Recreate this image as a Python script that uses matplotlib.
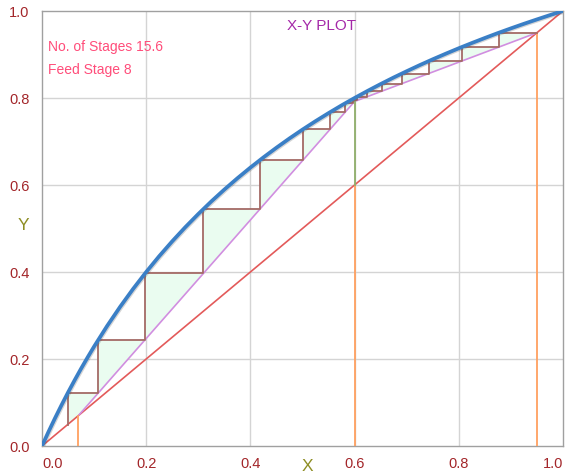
import matplotlib
matplotlib.use("Agg")
import matplotlib.pyplot as plt
import matplotlib.patheffects as pe

plt.rcParams['font.family'] = ['Liberation Sans', 'DejaVu Sans']

# ---- data ----
eq_x = [0.0, 0.0125, 0.025, 0.0375, 0.05, 0.0625, 0.075, 0.0875, 0.1, 0.125, 0.15, 0.175,
        0.2, 0.225, 0.25, 0.275, 0.3, 0.325, 0.35, 0.375, 0.4, 0.425, 0.45, 0.475, 0.5,
        0.525, 0.55, 0.575, 0.6, 0.625, 0.65, 0.675, 0.7, 0.725, 0.75, 0.775, 0.8,
        0.825, 0.85, 0.875, 0.9, 0.925, 0.95, 0.975, 1.0]
eq_y = [0.0, 0.0327, 0.064, 0.0941, 0.1231, 0.1509, 0.1778, 0.2036, 0.2286, 0.2759, 0.32,
        0.3613, 0.4, 0.4364, 0.4706, 0.5029, 0.5333, 0.5622, 0.5895, 0.6154, 0.64, 0.6634,
        0.6857, 0.7070, 0.7273, 0.7467, 0.7652, 0.7830, 0.8, 0.8163, 0.832, 0.8471, 0.8615,
        0.8755, 0.8889, 0.9018, 0.9143, 0.9263, 0.9379, 0.9492, 0.96, 0.9705, 0.9806,
        0.9905, 1.0]

x_distillate = 0.95
x_feed = 0.60
x_bottoms = 0.07
y_feed_intersect = 0.792

# stage staircase: equilibrium x of each stage and horizontal levels
stage_x = [0.877, 0.806, 0.742, 0.691, 0.652, 0.623, 0.604, 0.597, 0.582, 0.553,
           0.501, 0.419, 0.310, 0.198, 0.108, 0.049]
stage_levels = [0.950, 0.917, 0.885, 0.856, 0.833, 0.815, 0.803, 0.796, 0.788, 0.768,
                0.728, 0.657, 0.545, 0.397, 0.244, 0.122, 0.049]

n_stages_text = "No. of Stages 15.6"
feed_stage_text = "Feed Stage 8"

ticks = [0.0, 0.2, 0.4, 0.6, 0.8, 1.0]
tick_labels = ["0.0", "0.2", "0.4", "0.6", "0.8", "1.0"]

# ---- figure ----
fig = plt.figure(figsize=(5.76, 4.77), dpi=100)
ax = fig.add_axes([0.0729, 0.0629, 0.9045, 0.912])
ax.set_xlim(0, 1)
ax.set_ylim(0, 1)

# grid
for t in ticks[1:-1]:
    ax.axvline(t, color='#d4d4d4', lw=1.0, zorder=0)
    ax.axhline(t, color='#d4d4d4', lw=1.0, zorder=0)

# staircase path
sx = [x_distillate]
sy = [stage_levels[0]]
for i, xs in enumerate(stage_x):
    sx += [xs, xs]
    sy += [stage_levels[i], stage_levels[i + 1]]

# fill between staircase and operating lines
poly_x = sx + [x_bottoms, x_feed]
poly_y = sy + [x_bottoms, y_feed_intersect]
ax.fill(poly_x, poly_y, color='#eafcf0', zorder=1, lw=0)

# diagonal
ax.plot([0, 1], [0, 1], color='#e35a5a', lw=1.2, zorder=2)

# operating lines
ax.plot([x_distillate, x_feed, x_bottoms],
        [x_distillate, y_feed_intersect, x_bottoms],
        color='#d18ee0', lw=1.2, zorder=3)

# vertical reference lines
ax.plot([x_bottoms, x_bottoms], [0, x_bottoms], color='#ffa060', lw=1.3, zorder=3)
ax.plot([x_feed, x_feed], [0, x_feed], color='#ffa060', lw=1.3, zorder=3)
ax.plot([x_distillate, x_distillate], [0, x_distillate], color='#ffa060', lw=1.3, zorder=3)
ax.plot([x_feed, x_feed], [x_feed, y_feed_intersect], color='#8fae6a', lw=1.3, zorder=3)

# steps
ax.plot(sx, sy, color='#a46a66', lw=1.3, zorder=4)

# equilibrium curve
ax.plot(eq_x, eq_y, color='#3a7fc6', lw=2.7, zorder=5, solid_capstyle='round',
        solid_joinstyle='round',
        path_effects=[pe.SimpleLineShadow(offset=(0.7, -0.7), shadow_color='#404040', alpha=0.22),
                      pe.Normal()])

# spines and ticks
for s in ax.spines.values():
    s.set_color('#a0a0a0')
    s.set_linewidth(1.0)
ax.set_xticks(ticks)
ax.set_yticks(ticks)
ax.set_xticklabels(tick_labels)
ax.set_yticklabels(tick_labels)
ax.tick_params(length=0, labelsize=10.5, labelcolor='#a3262a')
ax.tick_params(axis='y', pad=9)
ax.tick_params(axis='x', pad=7)
xl = ax.get_xticklabels()
xl[0].set_ha('left')
xl[-1].set_ha('right')

ax.text(-0.035, 0.51, "Y", color='#8e8e24', fontsize=12.5, ha='center', va='center',
        transform=ax.transAxes)
ax.text(0.51, -0.044, "X", color='#8e8e24', fontsize=12.5, ha='center', va='center',
        transform=ax.transAxes)

ax.text(0.536, 0.968, "X-Y PLOT", color='#a428a8', fontsize=11, ha='center', va='center')
ax.text(0.011, 0.92, n_stages_text, color='#ff4d7a', fontsize=10, ha='left', va='center')
ax.text(0.011, 0.867, feed_stage_text, color='#ff4d7a', fontsize=10, ha='left', va='center')

fig.savefig("out.png", dpi=100)
